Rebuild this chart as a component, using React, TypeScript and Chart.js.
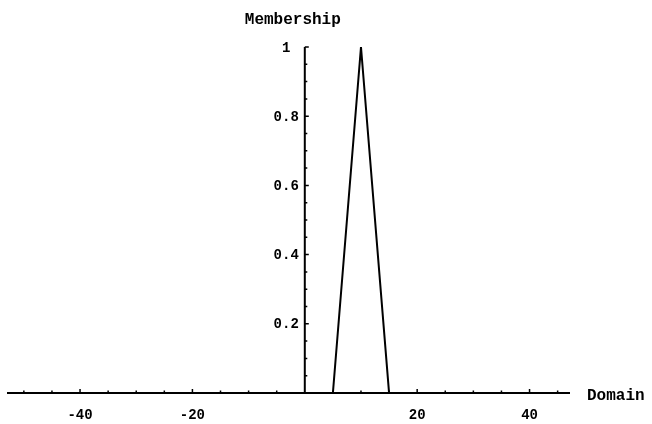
import React, { useEffect, useRef } from "react";
import { Chart, registerables } from "chart.js";

Chart.register(...registerables);

// Data (membership function: triangle)
const domain = [-53, 5, 10, 15, 47.2];
const membership = [0, 0, 1, 0, 0];

// Axis ranges
const xMin = -53;
const xMax = 47.2;
const yMin = 0;
const yMax = 1;

// Ticks
const xTickValues = [-50, -45, -40, -35, -30, -25, -20, -15, -10, -5, 5, 10, 15, 20, 25, 30, 35, 40, 45];
const xTickLabels = [-40, -20, 20, 40];
const yTickValues = [0.05, 0.1, 0.15, 0.2, 0.25, 0.3, 0.35, 0.4, 0.45, 0.5, 0.55, 0.6, 0.65, 0.7, 0.75, 0.8, 0.85, 0.9, 0.95, 1];
const yTickLabels = [0.2, 0.4, 0.6, 0.8, 1];

const xTitle = "Domain";
const yTitle = "Membership";

const FONT = "'Liberation Mono', 'DejaVu Sans Mono', monospace";

const near = (a: number, b: number) => Math.abs(a - b) < 1e-6;

const axesPlugin = {
  id: "mathAxes",
  afterDraw(chart: any) {
    const ctx = chart.ctx;
    const xs = chart.scales.x;
    const ys = chart.scales.y;
    const x0 = xs.getPixelForValue(0);
    const y0 = ys.getPixelForValue(0);
    ctx.save();
    ctx.strokeStyle = "#000";
    ctx.fillStyle = "#000";
    // axes lines
    ctx.lineWidth = 2;
    ctx.beginPath();
    ctx.moveTo(xs.getPixelForValue(xMin), y0);
    ctx.lineTo(xs.getPixelForValue(xMax), y0);
    ctx.moveTo(x0, ys.getPixelForValue(yMin));
    ctx.lineTo(x0, ys.getPixelForValue(yMax));
    ctx.stroke();
    // tick marks
    ctx.lineWidth = 1.5;
    ctx.beginPath();
    xTickValues.forEach((v) => {
      const px = xs.getPixelForValue(v);
      const major = xTickLabels.some((l) => near(l, v));
      ctx.moveTo(px, y0);
      ctx.lineTo(px, y0 - (major ? 4 : 2.5));
    });
    yTickValues.forEach((v) => {
      const py = ys.getPixelForValue(v);
      const major = yTickLabels.some((l) => near(l, v));
      ctx.moveTo(x0, py);
      ctx.lineTo(x0 + (major ? 4 : 2.5), py);
    });
    ctx.stroke();
    // tick labels
    ctx.font = `bold 14px ${FONT}`;
    ctx.textAlign = "center";
    ctx.textBaseline = "middle";
    xTickLabels.forEach((v) => {
      ctx.fillText(String(v), xs.getPixelForValue(v), y0 + 22);
    });
    ctx.textAlign = "right";
    const digitW = ctx.measureText("0").width;
    yTickLabels.forEach((v) => {
      const s = String(v);
      const shift = s.includes(".") ? 0 : digitW;
      ctx.fillText(s, x0 - 6 - shift, ys.getPixelForValue(v) + 1);
    });
    // axis titles
    ctx.font = `bold 16px ${FONT}`;
    ctx.textAlign = "center";
    ctx.textBaseline = "alphabetic";
    ctx.fillText(yTitle, x0 - 12, 24);
    ctx.textAlign = "left";
    ctx.textBaseline = "middle";
    ctx.fillText(xTitle, xs.getPixelForValue(xMax) + 17, y0 + 3);
    ctx.restore();
  },
};

export default function App() {
  const ref = useRef<HTMLCanvasElement | null>(null);
  useEffect(() => {
    if (!ref.current) return;
    const chart = new Chart(ref.current, {
      type: "scatter",
      data: {
        datasets: [
          {
            data: domain.map((x, i) => ({ x, y: membership[i] })),
            showLine: true,
            borderColor: "#000",
            borderWidth: 2,
            pointRadius: 0,
            clip: false as any,
          },
        ],
      },
      options: {
        responsive: false,
        animation: false,
        layout: { padding: { left: 7, right: 82, top: 47, bottom: 31 } },
        plugins: { legend: { display: false }, tooltip: { enabled: false } },
        scales: {
          x: { type: "linear", min: xMin, max: xMax, display: false },
          y: { type: "linear", min: yMin, max: yMax, display: false },
        },
      },
      plugins: [axesPlugin],
    });
    return () => chart.destroy();
  }, []);
  return (
    <div style={{ position: "absolute", left: 0, top: 0, width: 652, height: 424, background: "#fff" }}>
      <canvas ref={ref} width={652} height={424} />
    </div>
  );
}
